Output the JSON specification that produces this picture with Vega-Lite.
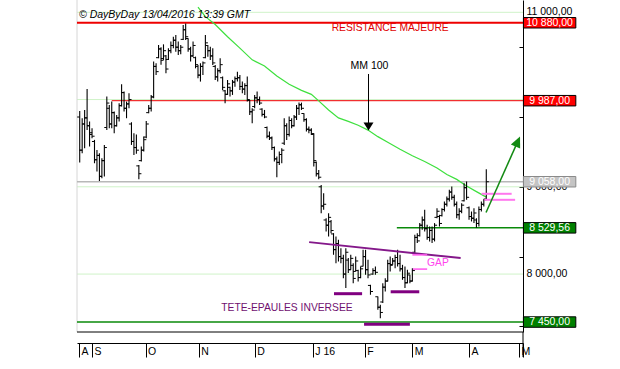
{
"$schema":"https://vega.github.io/schema/vega-lite/v6.json",
"width":446,"height":332,
"autosize":{"type":"none"},
"padding":{"left":77,"top":0,"right":97,"bottom":37},
"background":"white",
"config":{"view":{"stroke":null},"font":"Liberation Sans"},
"datasets":{
"bars":[
{"i":-5,"o":9800,"h":9870,"l":9278,"c":9420},
{"i":-4,"o":9420,"h":9786,"l":9385,"c":9720},
{"i":-3,"o":9720,"h":9881,"l":9442,"c":9790},
{"i":-2,"o":9790,"h":10122,"l":9652,"c":9700},
{"i":-1,"o":9700,"h":9748,"l":9461,"c":9620},
{"i":0,"o":9600,"h":9671,"l":9557,"c":9580},
{"i":1,"o":9520,"h":9538,"l":9270,"c":9310},
{"i":2,"o":9310,"h":9423,"l":9175,"c":9360},
{"i":3,"o":9360,"h":9385,"l":9068,"c":9120},
{"i":4,"o":9120,"h":9328,"l":9099,"c":9300},
{"i":5,"o":9300,"h":9480,"l":9118,"c":9450},
{"i":6,"o":9680,"h":10034,"l":9652,"c":9960},
{"i":7,"o":9900,"h":9938,"l":9671,"c":9720},
{"i":8,"o":9720,"h":9977,"l":9671,"c":9850},
{"i":9,"o":9850,"h":9862,"l":9614,"c":9700},
{"i":10,"o":9700,"h":9824,"l":9690,"c":9790},
{"i":11,"o":9790,"h":9958,"l":9748,"c":9930},
{"i":12,"o":9930,"h":10175,"l":9919,"c":10080},
{"i":13,"o":10080,"h":10091,"l":9862,"c":9900},
{"i":14,"o":9900,"h":9977,"l":9786,"c":9950},
{"i":15,"o":9950,"h":10072,"l":9900,"c":10000},
{"i":16,"o":9720,"h":9740,"l":9480,"c":9520},
{"i":17,"o":9520,"h":9614,"l":9366,"c":9450},
{"i":18,"o":9450,"h":9600,"l":9380,"c":9420},
{"i":19,"o":9240,"h":9251,"l":9087,"c":9150},
{"i":20,"o":9300,"h":9461,"l":9290,"c":9420},
{"i":21,"o":9420,"h":9576,"l":9404,"c":9540},
{"i":22,"o":9570,"h":9755,"l":9557,"c":9720},
{"i":23,"o":9850,"h":9938,"l":9843,"c":9900},
{"i":24,"o":9900,"h":10053,"l":9862,"c":10030},
{"i":25,"o":10030,"h":10435,"l":10015,"c":10380},
{"i":26,"o":10380,"h":10416,"l":10282,"c":10320},
{"i":27,"o":10480,"h":10625,"l":10473,"c":10580},
{"i":28,"o":10580,"h":10600,"l":10400,"c":10450},
{"i":29,"o":10470,"h":10633,"l":10454,"c":10560},
{"i":30,"o":10500,"h":10511,"l":10301,"c":10350},
{"i":31,"o":10460,"h":10587,"l":10454,"c":10560},
{"i":32,"o":10560,"h":10664,"l":10530,"c":10620},
{"i":33,"o":10620,"h":10721,"l":10587,"c":10680},
{"i":34,"o":10680,"h":10740,"l":10549,"c":10600},
{"i":35,"o":10600,"h":10664,"l":10511,"c":10560},
{"i":36,"o":10560,"h":10625,"l":10519,"c":10600},
{"i":37,"o":10690,"h":10854,"l":10683,"c":10800},
{"i":38,"o":10800,"h":10873,"l":10683,"c":10720},
{"i":39,"o":10700,"h":10702,"l":10549,"c":10580},
{"i":40,"o":10580,"h":10606,"l":10435,"c":10500},
{"i":41,"o":10500,"h":10664,"l":10492,"c":10620},
{"i":42,"o":10480,"h":10492,"l":10358,"c":10400},
{"i":43,"o":10380,"h":10396,"l":10244,"c":10280},
{"i":44,"o":10280,"h":10416,"l":10206,"c":10380},
{"i":45,"o":10380,"h":10435,"l":10282,"c":10420},
{"i":46,"o":10480,"h":10740,"l":10473,"c":10650},
{"i":47,"o":10620,"h":10625,"l":10492,"c":10560},
{"i":48,"o":10560,"h":10606,"l":10454,"c":10500},
{"i":49,"o":10500,"h":10587,"l":10396,"c":10420},
{"i":50,"o":10380,"h":10396,"l":10225,"c":10260},
{"i":51,"o":10260,"h":10358,"l":10206,"c":10330},
{"i":52,"o":10330,"h":10473,"l":10301,"c":10400},
{"i":53,"o":10250,"h":10263,"l":10110,"c":10140},
{"i":54,"o":10100,"h":10110,"l":9958,"c":10060},
{"i":55,"o":10060,"h":10225,"l":10053,"c":10180},
{"i":56,"o":10140,"h":10148,"l":10034,"c":10100},
{"i":57,"o":10100,"h":10225,"l":10053,"c":10200},
{"i":58,"o":10200,"h":10263,"l":10148,"c":10240},
{"i":59,"o":10240,"h":10320,"l":10206,"c":10250},
{"i":60,"o":10250,"h":10282,"l":10110,"c":10150},
{"i":61,"o":10150,"h":10206,"l":10072,"c":10120},
{"i":62,"o":10120,"h":10186,"l":10053,"c":10160},
{"i":63,"o":10160,"h":10263,"l":9977,"c":10000},
{"i":64,"o":9990,"h":9996,"l":9824,"c":9860},
{"i":65,"o":9860,"h":9900,"l":9728,"c":9880},
{"i":66,"o":9920,"h":10053,"l":9900,"c":10020},
{"i":67,"o":10020,"h":10091,"l":9957,"c":10000},
{"i":68,"o":10000,"h":10034,"l":9938,"c":9960},
{"i":69,"o":9890,"h":9900,"l":9805,"c":9830},
{"i":70,"o":9830,"h":9881,"l":9786,"c":9800},
{"i":71,"o":9680,"h":9690,"l":9557,"c":9580},
{"i":72,"o":9580,"h":9633,"l":9537,"c":9560},
{"i":73,"o":9560,"h":9576,"l":9423,"c":9450},
{"i":74,"o":9450,"h":9461,"l":9289,"c":9320},
{"i":75,"o":9320,"h":9347,"l":9110,"c":9280},
{"i":76,"o":9280,"h":9404,"l":9251,"c":9370},
{"i":77,"o":9370,"h":9442,"l":9270,"c":9420},
{"i":78,"o":9500,"h":9786,"l":9480,"c":9700},
{"i":79,"o":9700,"h":9728,"l":9537,"c":9600},
{"i":80,"o":9600,"h":9805,"l":9576,"c":9760},
{"i":81,"o":9760,"h":9786,"l":9671,"c":9700},
{"i":82,"o":9700,"h":9824,"l":9690,"c":9800},
{"i":83,"o":9800,"h":9938,"l":9766,"c":9900},
{"i":84,"o":9900,"h":9965,"l":9824,"c":9940},
{"i":85,"o":9940,"h":9965,"l":9881,"c":9900},
{"i":86,"o":9840,"h":9843,"l":9747,"c":9770},
{"i":87,"o":9770,"h":9786,"l":9633,"c":9660},
{"i":88,"o":9660,"h":9690,"l":9614,"c":9650},
{"i":89,"o":9650,"h":9671,"l":9595,"c":9610},
{"i":90,"o":9600,"h":9614,"l":9232,"c":9300},
{"i":91,"o":9280,"h":9289,"l":9118,"c":9150},
{"i":92,"o":9150,"h":9194,"l":9087,"c":9110},
{"i":93,"o":9000,"h":9022,"l":8698,"c":8780},
{"i":94,"o":8780,"h":8927,"l":8736,"c":8800},
{"i":95,"o":8620,"h":8640,"l":8488,"c":8560},
{"i":96,"o":8560,"h":8698,"l":8431,"c":8650},
{"i":97,"o":8600,"h":8621,"l":8469,"c":8500},
{"i":98,"o":8460,"h":8469,"l":8221,"c":8280},
{"i":99,"o":8280,"h":8430,"l":8125,"c":8350},
{"i":100,"o":8350,"h":8392,"l":8144,"c":8200},
{"i":101,"o":8200,"h":8297,"l":8125,"c":8180},
{"i":102,"o":8180,"h":8221,"l":7953,"c":8000},
{"i":103,"o":8000,"h":8297,"l":7839,"c":8250},
{"i":104,"o":8160,"h":8183,"l":8011,"c":8050},
{"i":105,"o":8050,"h":8221,"l":8049,"c":8180},
{"i":106,"o":8100,"h":8125,"l":7896,"c":7950},
{"i":107,"o":8030,"h":8202,"l":8030,"c":8150},
{"i":108,"o":8040,"h":8049,"l":7915,"c":7960},
{"i":109,"o":7960,"h":8087,"l":7953,"c":8060},
{"i":110,"o":8090,"h":8278,"l":8087,"c":8200},
{"i":111,"o":8200,"h":8278,"l":7992,"c":8050},
{"i":112,"o":8050,"h":8163,"l":7953,"c":7990},
{"i":113,"o":7870,"h":7877,"l":7763,"c":7800},
{"i":114,"o":8000,"h":8068,"l":7992,"c":8040},
{"i":115,"o":8040,"h":8087,"l":7992,"c":8020},
{"i":116,"o":7740,"h":7744,"l":7591,"c":7620},
{"i":117,"o":7620,"h":7648,"l":7495,"c":7560},
{"i":118,"o":7680,"h":7896,"l":7667,"c":7850},
{"i":119,"o":7850,"h":7953,"l":7801,"c":7920},
{"i":120,"o":7920,"h":8163,"l":7915,"c":8120},
{"i":121,"o":8120,"h":8202,"l":8030,"c":8100},
{"i":122,"o":8110,"h":8183,"l":8106,"c":8150},
{"i":123,"o":8150,"h":8221,"l":8068,"c":8190},
{"i":124,"o":8190,"h":8278,"l":8087,"c":8120},
{"i":125,"o":8120,"h":8221,"l":8030,"c":8060},
{"i":126,"o":8060,"h":8106,"l":7934,"c":7960},
{"i":127,"o":7960,"h":8087,"l":7839,"c":7900},
{"i":128,"o":7900,"h":8049,"l":7896,"c":8010},
{"i":129,"o":7990,"h":7992,"l":7896,"c":7920},
{"i":130,"o":7920,"h":8068,"l":7915,"c":8040},
{"i":131,"o":8250,"h":8450,"l":8240,"c":8420},
{"i":132,"o":8420,"h":8469,"l":8355,"c":8380},
{"i":133,"o":8440,"h":8584,"l":8431,"c":8560},
{"i":134,"o":8560,"h":8660,"l":8507,"c":8620},
{"i":135,"o":8620,"h":8736,"l":8488,"c":8520},
{"i":136,"o":8520,"h":8565,"l":8393,"c":8420},
{"i":137,"o":8420,"h":8545,"l":8374,"c":8500},
{"i":138,"o":8500,"h":8545,"l":8355,"c":8400},
{"i":139,"o":8400,"h":8584,"l":8374,"c":8560},
{"i":140,"o":8650,"h":8755,"l":8641,"c":8720},
{"i":141,"o":8660,"h":8679,"l":8545,"c":8580},
{"i":142,"o":8670,"h":8755,"l":8660,"c":8740},
{"i":143,"o":8740,"h":8832,"l":8717,"c":8800},
{"i":144,"o":8800,"h":8889,"l":8775,"c":8860},
{"i":145,"o":8860,"h":8965,"l":8832,"c":8940},
{"i":146,"o":8940,"h":9004,"l":8851,"c":8880},
{"i":147,"o":8880,"h":8908,"l":8775,"c":8800},
{"i":148,"o":8800,"h":8832,"l":8641,"c":8680},
{"i":149,"o":8680,"h":8755,"l":8622,"c":8720},
{"i":150,"o":8720,"h":8813,"l":8698,"c":8790},
{"i":151,"o":8840,"h":9042,"l":8832,"c":8990},
{"i":152,"o":8990,"h":9061,"l":8851,"c":8880},
{"i":153,"o":8760,"h":8775,"l":8622,"c":8660},
{"i":154,"o":8660,"h":8717,"l":8603,"c":8640},
{"i":155,"o":8640,"h":8755,"l":8584,"c":8700},
{"i":156,"o":8620,"h":8641,"l":8531,"c":8580},
{"i":157,"o":8580,"h":8775,"l":8546,"c":8740},
{"i":158,"o":8740,"h":8832,"l":8717,"c":8800},
{"i":159,"o":8800,"h":8858,"l":8775,"c":8850},
{"i":160,"o":8860,"h":9202,"l":8851,"c":9058}
],
"ma":[
{"i":43,"v":11060},{"i":46,"v":10950},{"i":50,"v":10860},{"i":55,"v":10720},{"i":60,"v":10590},{"i":65,"v":10455},{"i":70,"v":10385},{"i":75,"v":10270},{"i":80,"v":10175},{"i":85,"v":10105},{"i":89,"v":10060},{"i":92,"v":9985},{"i":96,"v":9880},{"i":100,"v":9790},{"i":104,"v":9750},{"i":108,"v":9705},{"i":112,"v":9650},{"i":116,"v":9575},{"i":120,"v":9510},{"i":125,"v":9430},{"i":130,"v":9355},{"i":135,"v":9290},{"i":140,"v":9215},{"i":144,"v":9140},{"i":148,"v":9085},{"i":152,"v":9010},{"i":156,"v":8945},{"i":160,"v":8882}
]
},
"layer":[
{"data":{"values":[{"a":-6.1,"b":174.9,"v":11000},{"a":-6.1,"b":174.9,"v":10000},{"a":-6.1,"b":174.9,"v":9000},{"a":-6.1,"b":174.9,"v":8000}]},
 "mark":{"type":"rule","color":"#cff3c8","strokeWidth":1},
 "encoding":{"x":{"field":"a","type":"quantitative"},"x2":{"field":"b"},"y":{"field":"v","type":"quantitative"}}},
{"data":{"values":[{"i":-6.1}]},
 "mark":{"type":"rule","color":"#d6d6d6","strokeWidth":1},
 "encoding":{"x":{"field":"i","type":"quantitative"}}},
{"data":{"values":[{"a":-6.1,"b":174.9,"v":9058}]},
 "mark":{"type":"rule","color":"#b8b8b8","strokeWidth":1.5},
 "encoding":{"x":{"field":"a","type":"quantitative"},"x2":{"field":"b"},"y":{"field":"v","type":"quantitative"}}},
{"data":{"values":[{"a":-6.1,"b":174.9,"v":10880}]},
 "mark":{"type":"rule","color":"#ee0000","strokeWidth":2},
 "encoding":{"x":{"field":"a","type":"quantitative"},"x2":{"field":"b"},"y":{"field":"v","type":"quantitative"}}},
{"data":{"values":[{"a":8,"b":174.9,"v":9987}]},
 "mark":{"type":"rule","color":"#ee0000","strokeWidth":1},
 "encoding":{"x":{"field":"a","type":"quantitative"},"x2":{"field":"b"},"y":{"field":"v","type":"quantitative"}}},
{"data":{"values":[{"a":123.7,"b":174.9,"v":8529.56},{"a":-6.1,"b":174.9,"v":7450}]},
 "mark":{"type":"rule","color":"#0a8a0a","strokeWidth":1.5},
 "encoding":{"x":{"field":"a","type":"quantitative"},"x2":{"field":"b"},"y":{"field":"v","type":"quantitative"}}},
{"data":{"values":[{"a":-6.1,"b":174.9,"v":7336}]},
 "mark":{"type":"rule","color":"#000000","strokeWidth":1},
 "encoding":{"x":{"field":"a","type":"quantitative"},"x2":{"field":"b"},"y":{"field":"v","type":"quantitative"}}},
{"data":{"values":[{"i":174.9,"v":7336,"v2":7049}]},
 "mark":{"type":"rule","color":"#000000","strokeWidth":1},
 "encoding":{"x":{"field":"i","type":"quantitative"},"y":{"field":"v","type":"quantitative"},"y2":{"field":"v2"}}},
{"data":{"name":"ma"},
 "mark":{"type":"line","color":"#3ee03e","strokeWidth":1.2,"clip":true},
 "encoding":{"x":{"field":"i","type":"quantitative"},"y":{"field":"v","type":"quantitative"}}},
{"data":{"name":"bars"},
 "mark":{"type":"rule","color":"#000000","strokeWidth":1.1},
 "encoding":{
  "x":{"field":"i","type":"quantitative","scale":{"domain":[-6.1,174.9],"nice":false,"zero":false},
   "axis":{"title":null,"orient":"bottom","offset":11,"grid":false,
    "values":[-5.3,0,21.7,43.3,66,89.6,110.7,130,153,173.3,174.9],
    "labelExpr":"datum.value < -1 ? 'A' : datum.value < 10 ? 'S' : datum.value < 30 ? 'O' : datum.value < 50 ? 'N' : datum.value < 70 ? 'D' : datum.value < 100 ? 'J 16' : datum.value < 120 ? 'F' : datum.value < 140 ? 'M' : datum.value < 160 ? 'A' : datum.value < 174 ? 'M' : ''",
    "domainColor":"#000000","domainWidth":1,"tickColor":"#000000","tickWidth":1,"tickSize":14,
    "labelAlign":"left","labelBaseline":"middle","labelPadding":-5.6,"labelOffset":2,
    "labelFlush":false,"labelOverlap":false,"labelBound":false,
    "labelFont":"Liberation Sans","labelFontSize":10.5,"labelColor":"#000000"}},
  "y":{"field":"l","type":"quantitative","scale":{"domain":[7336,11141],"nice":false,"zero":false},
   "axis":{"title":null,"orient":"right","grid":false,"labels":false,
    "values":[7400,7600,7800,8000,8200,8400,8600,8800,9000,9200,9400,9600,9800,10000,10200,10400,10600,10800,11000],
    "domainColor":"#000000","domainWidth":1,"tickColor":"#000000","tickWidth":1,"tickSize":-4}},
  "y2":{"field":"h"}}},
{"data":{"name":"bars"},
 "mark":{"type":"tick","orient":"horizontal","size":2.5,"thickness":1,"xOffset":-1.3,"color":"#000000","opacity":1},
 "encoding":{"x":{"field":"i","type":"quantitative"},"y":{"field":"o","type":"quantitative"}}},
{"data":{"name":"bars"},
 "mark":{"type":"tick","orient":"horizontal","size":2.5,"thickness":1,"xOffset":1.3,"color":"#000000","opacity":1},
 "encoding":{"x":{"field":"i","type":"quantitative"},"y":{"field":"c","type":"quantitative"}}},
{"data":{"values":[{"a":88.1,"v":8366,"b":149.6,"v2":8183}]},
 "mark":{"type":"rule","color":"#84188a","strokeWidth":2},
 "encoding":{"x":{"field":"a","type":"quantitative"},"x2":{"field":"b"},"y":{"field":"v","type":"quantitative"},"y2":{"field":"v2"}}},
{"data":{"values":[{"a":98.2,"b":109.6,"v":7775},{"a":110.4,"b":129,"v":7425},{"a":121.2,"b":132.8,"v":7797}]},
 "mark":{"type":"rule","color":"#800080","strokeWidth":3},
 "encoding":{"x":{"field":"a","type":"quantitative"},"x2":{"field":"b"},"y":{"field":"v","type":"quantitative"}}},
{"data":{"values":[{"a":130,"b":136,"v":8220},{"a":130.2,"b":136,"v":8057}]},
 "mark":{"type":"rule","color":"#ff55ee","strokeWidth":1.5},
 "encoding":{"x":{"field":"a","type":"quantitative"},"x2":{"field":"b"},"y":{"field":"v","type":"quantitative"}}},
{"data":{"values":[{"a":158.1,"b":170.3,"v":8920},{"a":159.2,"b":171.7,"v":8851}]},
 "mark":{"type":"rule","color":"#ff77ee","strokeWidth":2},
 "encoding":{"x":{"field":"a","type":"quantitative"},"x2":{"field":"b"},"y":{"field":"v","type":"quantitative"}}},
{"data":{"values":[{"i":112.2,"v":10293,"v2":9700}]},
 "mark":{"type":"rule","color":"#000000","strokeWidth":1},
 "encoding":{"x":{"field":"i","type":"quantitative"},"y":{"field":"v","type":"quantitative"},"y2":{"field":"v2"}}},
{"data":{"values":[{"i":112.2,"v":9690}]},
 "mark":{"type":"point","shape":"M-1,-0.8L1,-0.8L0,0.8Z","size":100,"filled":true,"color":"#000000","opacity":1},
 "encoding":{"x":{"field":"i","type":"quantitative"},"y":{"field":"v","type":"quantitative"}}},
{"data":{"values":[{"a":159.9,"v":8705,"b":172.7,"v2":9515}]},
 "mark":{"type":"rule","color":"#138a13","strokeWidth":1.5},
 "encoding":{"x":{"field":"a","type":"quantitative"},"x2":{"field":"b"},"y":{"field":"v","type":"quantitative"},"y2":{"field":"v2"}}},
{"data":{"values":[{"i":172.7,"v":9515}]},
 "mark":{"type":"point","shape":"M0,-1L0.85,0.85L-0.85,0.85Z","size":144,"angle":24,"filled":true,"color":"#138a13","opacity":1},
 "encoding":{"x":{"field":"i","type":"quantitative"},"y":{"field":"v","type":"quantitative"}}},
{"data":{"values":[{"i":-5.3,"v":10969,"t":"© DayByDay 13/04/2016  13:39 GMT"}]},
 "mark":{"type":"text","align":"left","baseline":"middle","font":"Liberation Sans","fontSize":10.5,"fontStyle":"italic","color":"#000000"},
 "encoding":{"x":{"field":"i","type":"quantitative"},"y":{"field":"v","type":"quantitative"},"text":{"field":"t"}}},
{"data":{"values":[{"i":121,"v":10820,"t":"RESISTANCE MAJEURE"}]},
 "mark":{"type":"text","align":"center","baseline":"middle","font":"Liberation Sans","fontSize":10.3,"color":"#e00000"},
 "encoding":{"x":{"field":"i","type":"quantitative"},"y":{"field":"v","type":"quantitative"},"text":{"field":"t"}}},
{"data":{"values":[{"i":112.6,"v":10387,"t":"MM 100"}]},
 "mark":{"type":"text","align":"center","baseline":"middle","font":"Liberation Sans","fontSize":10.5,"color":"#000000"},
 "encoding":{"x":{"field":"i","type":"quantitative"},"y":{"field":"v","type":"quantitative"},"text":{"field":"t"}}},
{"data":{"values":[{"i":140.4,"v":8126,"t":"GAP"}]},
 "mark":{"type":"text","align":"center","baseline":"middle","font":"Liberation Sans","fontSize":10.3,"color":"#ff44ee"},
 "encoding":{"x":{"field":"i","type":"quantitative"},"y":{"field":"v","type":"quantitative"},"text":{"field":"t"}}},
{"data":{"values":[{"i":79.1,"v":7606,"t":"TETE-EPAULES INVERSEE"}]},
 "mark":{"type":"text","align":"center","baseline":"middle","font":"Liberation Sans","fontSize":10.3,"color":"#701070"},
 "encoding":{"x":{"field":"i","type":"quantitative"},"y":{"field":"v","type":"quantitative"},"text":{"field":"t"}}},
{"data":{"values":[{"i":176.3,"v":11000,"t":"11 000,00"},{"i":176.3,"v":9000,"t":"9 000,00"},{"i":176.3,"v":8000,"t":"8 000,00"}]},
 "mark":{"type":"text","align":"left","baseline":"middle","font":"Liberation Sans","fontSize":10.5,"color":"#000000"},
 "encoding":{"x":{"field":"i","type":"quantitative"},"y":{"field":"v","type":"quantitative"},"text":{"field":"t"}}},
{"data":{"values":[{"i":185.7,"v":10880},{"i":185.7,"v":9987}]},
 "mark":{"type":"point","shape":"M-1,-0.2L1,-0.2L1,0.2L-1,0.2Z","size":2746,"filled":true,"fill":"#ff0000","stroke":"#000000","strokeWidth":1,"opacity":1},
 "encoding":{"x":{"field":"i","type":"quantitative"},"y":{"field":"v","type":"quantitative"}}},
{"data":{"values":[{"i":185.7,"v":9058}]},
 "mark":{"type":"point","shape":"M-1,-0.2L1,-0.2L1,0.2L-1,0.2Z","size":2746,"filled":true,"fill":"#c4c4c4","stroke":"#8a8a8a","strokeWidth":1,"opacity":1},
 "encoding":{"x":{"field":"i","type":"quantitative"},"y":{"field":"v","type":"quantitative"}}},
{"data":{"values":[{"i":185.7,"v":8529.56},{"i":185.7,"v":7450}]},
 "mark":{"type":"point","shape":"M-1,-0.2L1,-0.2L1,0.2L-1,0.2Z","size":2746,"filled":true,"fill":"#008000","stroke":"#000000","strokeWidth":1,"opacity":1},
 "encoding":{"x":{"field":"i","type":"quantitative"},"y":{"field":"v","type":"quantitative"}}},
{"data":{"values":[{"i":185.7,"v":10880,"t":"10 880,00"},{"i":185.7,"v":9987,"t":"9 987,00"},{"i":185.7,"v":9058,"t":"9 058,00"},{"i":185.7,"v":8529.56,"t":"8 529,56"},{"i":185.7,"v":7450,"t":"7 450,00"}]},
 "mark":{"type":"text","align":"center","baseline":"middle","font":"Liberation Sans","fontSize":10.5,"color":"#ffffff"},
 "encoding":{"x":{"field":"i","type":"quantitative"},"y":{"field":"v","type":"quantitative"},"text":{"field":"t"}}}
]
}
